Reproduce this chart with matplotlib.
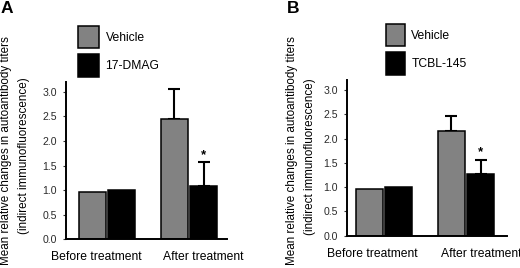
import matplotlib
matplotlib.use("Agg")
import matplotlib.pyplot as plt
from matplotlib.patches import Patch

plt.rcParams['font.family'] = ['Liberation Sans', 'DejaVu Sans']

groups = ["Before treatment", "After treatment"]
series_a = ["Vehicle", "17-DMAG"]
vals_a_vehicle = [0.97, 2.45]
vals_a_drug = [1.00, 1.09]
err_a_vehicle = [0.0, 0.60]
err_a_drug = [0.0, 0.48]
sig_a = [False, True]

series_b = ["Vehicle", "TCBL-145"]
vals_b_vehicle = [0.97, 2.15]
vals_b_drug = [1.00, 1.27]
err_b_vehicle = [0.0, 0.31]
err_b_drug = [0.0, 0.29]
sig_b = [False, True]

yticks = [0.0, 0.5, 1.0, 1.5, 2.0, 2.5, 3.0]
ylabel1 = "Mean relative changes in autoantibody titers"
ylabel2 = "(indirect immunofluorescence)"

W, H = 520, 268
fig = plt.figure(figsize=(W / 100, H / 100), dpi=100)

GRAY = "#828282"
bw = 0.325
off = 0.178


def px(x0, y0, x1, y1):
    return [x0 / W, 1 - y1 / H, (x1 - x0) / W, (y1 - y0) / H]


def panel(rect, xlim, names, v1, v2, e1, e2, sig, lab_off, letter, letter_xy,
          leg_xy, leg_hl, ylab_x, ylab_y):
    ax = fig.add_axes(rect)
    xs = list(range(len(groups)))
    x1 = [x - off for x in xs]
    x2 = [x + off for x in xs]
    ax.bar(x1, v1, bw, color=GRAY, edgecolor="black", linewidth=1.1,
           label=names[0], zorder=2)
    ax.bar(x2, v2, bw, color="black", edgecolor="black", linewidth=1.1,
           label=names[1], zorder=2)
    for x, v, e in zip(x1, v1, e1):
        if e > 0:
            ax.errorbar([x], [v], yerr=[[0], [e]], fmt="none", ecolor="black",
                        elinewidth=1.5, capsize=4, capthick=1.5, zorder=1)
    for x, v, e, s in zip(x2, v2, e2, sig):
        if e > 0:
            ax.errorbar([x], [v], yerr=[[0], [e]], fmt="none", ecolor="black",
                        elinewidth=1.5, capsize=4, capthick=1.5, zorder=1)
        if s:
            ax.annotate("*", (x, v + e), xytext=(0, 1), textcoords="offset points",
                        ha="center", va="bottom", fontsize=9.5, fontweight="bold")
    ax.set_xlim(*xlim)
    ax.set_ylim(0, 3.2)
    ax.set_yticks(yticks)
    ax.set_yticklabels([f"{t:.1f}" for t in yticks], fontsize=7.6, color="#2a2a2a")
    ax.tick_params(axis="y", length=2.5, width=0.8, pad=4, color="#333333")
    ax.set_xticks([x + o for x, o in zip(xs, lab_off)])
    ax.set_xticklabels(groups, fontsize=8.7)
    ax.tick_params(axis="x", length=0, pad=8.5)
    for s in ["top", "right"]:
        ax.spines[s].set_visible(False)
    for s in ["left", "bottom"]:
        ax.spines[s].set_linewidth(1.4)
    fig.text(letter_xy[0] / W, 1 - letter_xy[1] / H, letter, fontsize=12.5,
             fontweight="bold", ha="left", va="top")
    fig.text(ylab_x[0] / W, 1 - ylab_y[0] / H, ylabel1, rotation=90,
             fontsize=8.4, ha="center", va="center")
    fig.text(ylab_x[1] / W, 1 - ylab_y[1] / H, ylabel2, rotation=90,
             fontsize=8.4, ha="center", va="center")
    handles = [Patch(facecolor=GRAY, edgecolor="black", linewidth=1.1),
               Patch(facecolor="black", edgecolor="black", linewidth=1.1)]
    fig.legend(handles, names, loc="upper left",
               bbox_to_anchor=(leg_xy[0] / W, 1 - leg_xy[1] / H),
               frameon=False, fontsize=8.7, borderpad=0, borderaxespad=0,
               handlelength=leg_hl, handleheight=2.45, labelspacing=0.52,
               handletextpad=0.5)
    return ax


panel(px(65.7, 82.0, 227.0, 239.3), (-0.505, 1.463), series_a,
      vals_a_vehicle, vals_a_drug, err_a_vehicle, err_a_drug, sig_a,
      [-0.135, 0.17], "A", (1, 1), (78.3, 26), 1.75, (6, 24), (151, 156))
panel(px(346.7, 80.2, 507.0, 235.7), (-0.455, 1.5), series_b,
      vals_b_vehicle, vals_b_drug, err_b_vehicle, err_b_drug, sig_b,
      [-0.14, 0.18], "B", (287, 1), (386, 24), 1.6, (292, 310), (151, 157))

fig.savefig("out.png", dpi=100)
